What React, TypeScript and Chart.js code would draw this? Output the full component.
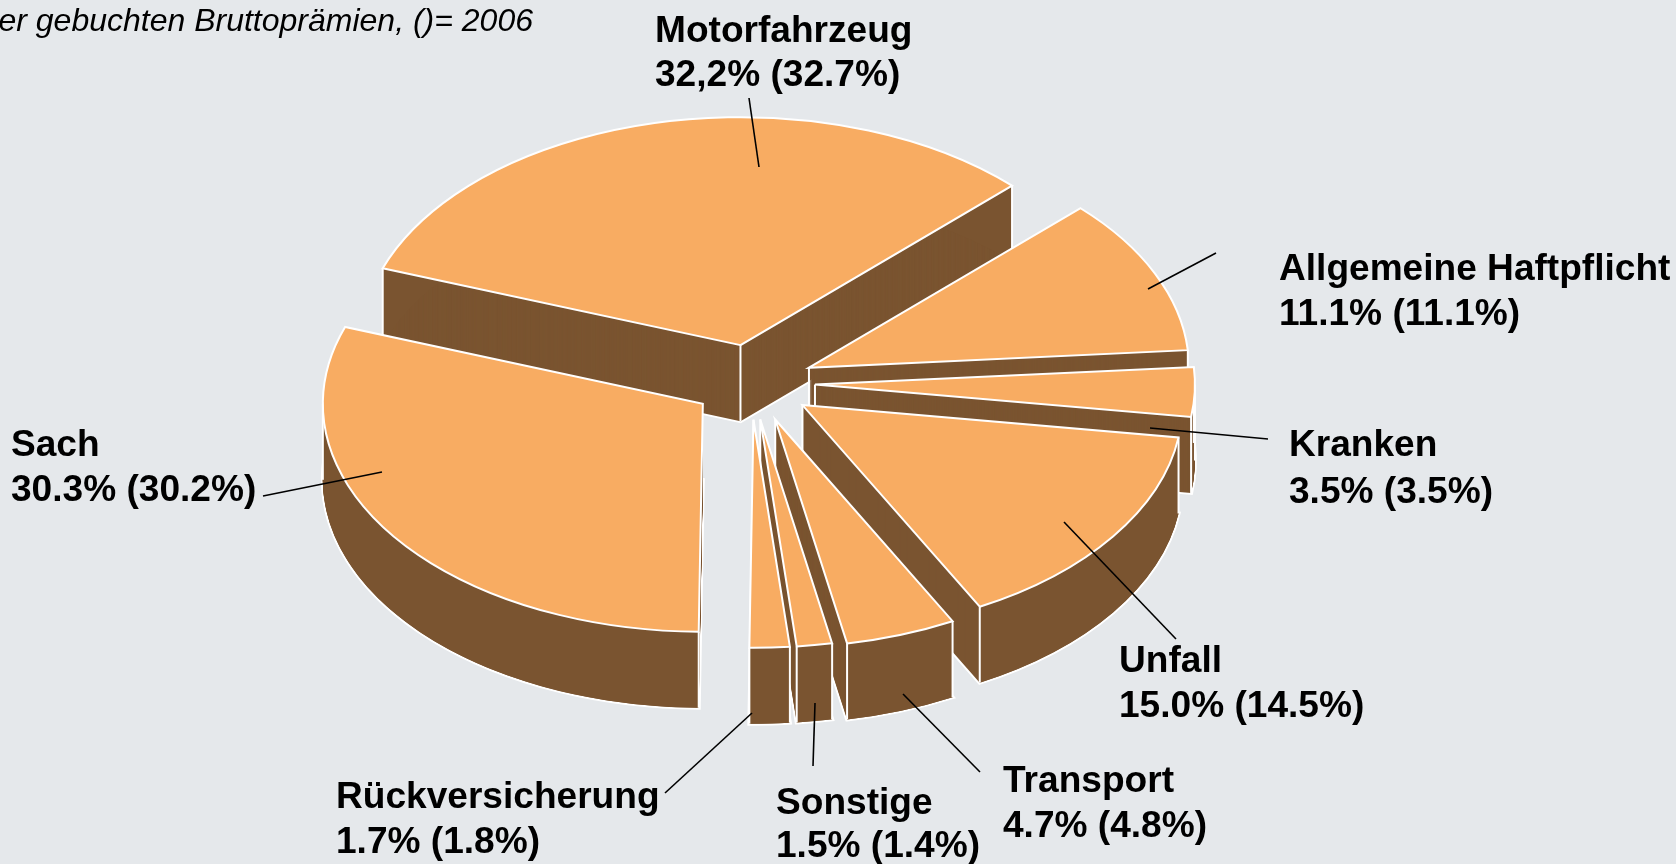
import React, { useEffect, useRef } from "react";
import { Chart, registerables } from "chart.js";

Chart.register(...registerables);

const categories = ["Motorfahrzeug", "Allgemeine Haftpflicht", "Kranken", "Unfall", "Transport", "Sonstige", "Rückversicherung", "Sach"];
const values = [32.2, 11.1, 3.5, 15.0, 4.7, 1.5, 1.7, 30.3];
const valueLabels = ["32,2% (32.7%)", "11.1% (11.1%)", "3.5% (3.5%)", "15.0% (14.5%)", "4.7% (4.8%)", "1.5% (1.4%)", "1.7% (1.8%)", "30.3% (30.2%)"];
const explode = [68, 61, 59, 58, 61, 58, 58, 61];
const nudgeX = [0, -1.6, 1, 0, 0, -3, -4, -2.1];
const nudgeY = [0, -3.6, -2.7, 0, 0, 0, 0, -3.5];
const apexEdge = [true, true, true, true, true, true, true, false];
const drawOrder = [0, 1, 2, 3, 7, 4, 5, 6];
const labelX = [655, 1279, 1289, 1119, 1003, 776, 336, 11];
const labelY = [42, 280, 456, 672, 792, 814, 808, 456];
const lineGap = [44, 45, 47, 45, 45, 43, 45, 45];
const leaders = [
  [749, 98, 759, 167],
  [1216, 253, 1148, 289],
  [1268, 439, 1150, 428],
  [1176, 639, 1064, 522],
  [980, 772, 903, 694],
  [813, 766, 815, 703],
  [665, 793, 752, 713],
  [263, 496, 382, 472],
];
const subtitle = "der gebuchten Bruttoprämien, ()= 2006";

const W = 1676;
const H = 864;
const BG = "#E5E8EB";
const ORANGE = "#F8AC62";
const BROWN = "#7A5430";
const K = 0.6;
const DEPTH = 76;
const FONT = '"Liberation Sans", Arial, sans-serif';

const piePlugin = {
  id: "pie3d",
  beforeDatasetsDraw(chart: any) {
    const ctx: CanvasRenderingContext2D = chart.ctx;
    const arcs = chart.getDatasetMeta(0).data;

    const shift = (el: any, i: number) => {
      const mid = (el.startAngle + el.endAngle) / 2;
      return [Math.cos(mid) * explode[i] + nudgeX[i], Math.sin(mid) * explode[i] + nudgeY[i]];
    };
    const project = (el: any, i: number, d: number) => {
      const [sx, sy] = shift(el, i);
      ctx.translate(0, d + el.y * (1 - K));
      ctx.scale(1, K);
      ctx.translate(sx, sy);
    };
    const strokePath = (el: any, i: number, d: number, width: number) => {
      ctx.save();
      project(el, i, d);
      ctx.beginPath();
      ctx.moveTo(el.x, el.y);
      ctx.arc(el.x, el.y, el.outerRadius, el.startAngle, el.endAngle);
      ctx.closePath();
      ctx.restore();
      ctx.strokeStyle = "#FFFFFF";
      ctx.lineWidth = width;
      ctx.lineJoin = "miter";
      ctx.stroke();
    };
    const ribbon = (el: any, i: number) => {
      ctx.beginPath();
      ctx.save();
      project(el, i, 0);
      ctx.arc(el.x, el.y, el.outerRadius, el.startAngle, el.endAngle);
      ctx.restore();
      ctx.save();
      project(el, i, DEPTH);
      ctx.arc(el.x, el.y, el.outerRadius, el.endAngle, el.startAngle, true);
      ctx.restore();
      ctx.closePath();
      ctx.fillStyle = BROWN;
      ctx.fill();
    };
    const vertical = (el: any, i: number, angle: number | null) => {
      const [sx, sy] = shift(el, i);
      const r = angle === null ? 0 : el.outerRadius;
      const a = angle === null ? 0 : angle;
      const px = el.x + sx + Math.cos(a) * r;
      const py = el.y + K * (sy + Math.sin(a) * r);
      ctx.beginPath();
      ctx.moveTo(px, py);
      ctx.lineTo(px, py + DEPTH);
      ctx.strokeStyle = "#FFFFFF";
      ctx.lineWidth = 2;
      ctx.stroke();
    };

    drawOrder.forEach((i) => {
      const el = arcs[i];
      const base = el.options;
      strokePath(el, i, DEPTH, 4);
      el.options = { ...base, backgroundColor: BROWN, borderWidth: 0 };
      for (let d = DEPTH; d > 0; d--) {
        ctx.save();
        project(el, i, d);
        el.draw(ctx);
        ctx.restore();
      }
      ribbon(el, i);
      if (apexEdge[i]) vertical(el, i, null);
      vertical(el, i, el.startAngle);
      vertical(el, i, el.endAngle);
      for (const extreme of [Math.PI, 3 * Math.PI, 0, 2 * Math.PI, -Math.PI]) {
        if (extreme > el.startAngle && extreme < el.endAngle) vertical(el, i, extreme);
      }
      el.options = { ...base, backgroundColor: ORANGE, borderWidth: 0 };
      ctx.save();
      project(el, i, 0);
      el.draw(ctx);
      ctx.restore();
      strokePath(el, i, 0, 2);
      el.options = base;
    });
    return false;
  },
  afterDraw(chart: any) {
    const ctx: CanvasRenderingContext2D = chart.ctx;
    ctx.save();
    ctx.strokeStyle = "#000000";
    ctx.lineWidth = 1.6;
    leaders.forEach(([x1, y1, x2, y2]) => {
      ctx.beginPath();
      ctx.moveTo(x1, y1);
      ctx.lineTo(x2, y2);
      ctx.stroke();
    });
    ctx.fillStyle = "#000000";
    ctx.textAlign = "left";
    ctx.textBaseline = "alphabetic";
    ctx.font = `bold 37.1px ${FONT}`;
    categories.forEach((c, i) => {
      ctx.fillText(c, labelX[i], labelY[i]);
      ctx.fillText(valueLabels[i], labelX[i], labelY[i] + lineGap[i]);
    });
    ctx.font = `italic 32px ${FONT}`;
    ctx.textAlign = "right";
    ctx.fillText(subtitle, 533, 31);
    ctx.restore();
  },
};

export default function App() {
  const ref = useRef<HTMLCanvasElement>(null);
  useEffect(() => {
    document.body.style.margin = "0";
    document.body.style.background = BG;
    const chart = new Chart(ref.current as HTMLCanvasElement, {
      type: "pie",
      data: {
        labels: categories,
        datasets: [{ data: values, backgroundColor: ORANGE, borderColor: "#FFFFFF", borderWidth: 0 }],
      },
      options: {
        responsive: false,
        animation: false,
        rotation: -70.3,
        radius: 380,
        layout: { padding: { right: 166, bottom: 94 } },
        plugins: { legend: { display: false }, tooltip: { enabled: false }, title: { display: false } },
      },
      plugins: [piePlugin],
    } as any);
    return () => chart.destroy();
  }, []);
  return (
    <div style={{ width: W, height: H, background: BG, overflow: "hidden" }}>
      <canvas ref={ref} width={W} height={H} style={{ display: "block" }} />
    </div>
  );
}
